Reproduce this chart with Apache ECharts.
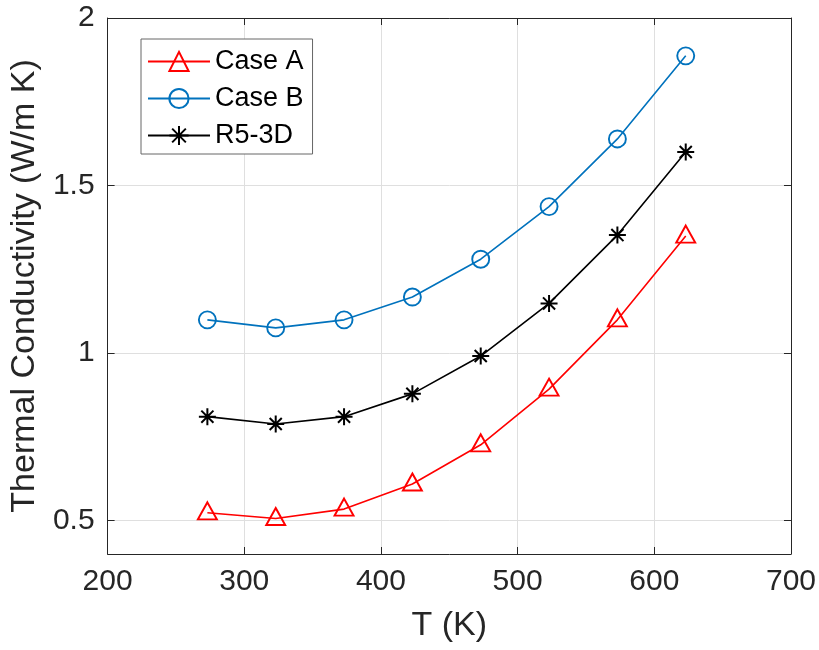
<!DOCTYPE html>
<html>
<head>
<meta charset="utf-8">
<script src="https://cdn.jsdelivr.net/npm/echarts@6/dist/echarts.min.js"></script>
<style>html,body{margin:0;padding:0;background:#fff;}#c{width:819px;height:650px;}</style>
</head>
<body>
<div id="c"></div>
<script>
var temps = [273, 323, 373, 423, 473, 523, 573, 623];
var caseA = [0.523, 0.506, 0.534, 0.609, 0.726, 0.892, 1.099, 1.349];
var caseB = [1.099, 1.075, 1.099, 1.167, 1.280, 1.437, 1.639, 1.887];
var r53d  = [0.810, 0.788, 0.810, 0.878, 0.991, 1.148, 1.352, 1.600];
var yTicks = [0.5, 1, 1.5, 2];
var seriesNames = ['Case A', 'Case B', 'R5-3D'];

function pairs(ys) { return temps.map(function (t, i) { return [t, ys[i]]; }); }

var axisColor = '#262626';
var font = '"Liberation Sans", Arial, sans-serif';
var asterisk = 'path://M0 -8 L0 8 M-8 0 L8 0 M-5.7 -5.7 L5.7 5.7 M-5.7 5.7 L5.7 -5.7';

var chart = echarts.init(document.getElementById('c'), null, {renderer: 'canvas'});
chart.setOption({
  backgroundColor: '#fff',
  animation: false,
  textStyle: {fontFamily: font},
  grid: {left: 107, right: 24, top: 18, bottom: 96, containLabel: false},
  legend: {
    left: 141, top: 39, orient: 'vertical',
    backgroundColor: '#fff', borderColor: '#666', borderWidth: 1, borderRadius: 0,
    padding: [9, 9, 5, 6], itemGap: 10, itemWidth: 62, itemHeight: 24,
    textStyle: {fontSize: 27, lineHeight: 24, color: '#000', fontFamily: font},
    data: seriesNames
  },
  xAxis: [{
    type: 'value', min: 200, max: 700, interval: 100, position: 'bottom',
    name: 'T (K)', nameLocation: 'middle', nameGap: 55,
    nameTextStyle: {fontSize: 34, color: axisColor, fontFamily: font},
    axisLine: {show: true, lineStyle: {color: axisColor, width: 1}},
    axisTick: {show: true, inside: true, length: 7, lineStyle: {color: axisColor}},
    axisLabel: {fontSize: 30, color: axisColor, margin: 13, fontFamily: font},
    splitLine: {show: true, lineStyle: {color: '#dfdfdf', width: 1}}
  }, {
    type: 'value', min: 200, max: 700, interval: 100, position: 'top',
    axisLine: {show: true, onZero: false, lineStyle: {color: axisColor, width: 1}},
    axisTick: {show: true, inside: true, length: 7, lineStyle: {color: axisColor}},
    axisLabel: {show: false}, splitLine: {show: false}
  }],
  yAxis: [{
    type: 'value', min: 0.4, max: 2, position: 'left',
    name: 'Thermal Conductivity (W/m K)', nameLocation: 'middle', nameGap: 61,
    nameTextStyle: {fontSize: 34, color: axisColor, fontFamily: font},
    axisLine: {show: true, lineStyle: {color: axisColor, width: 1}},
    axisTick: {show: true, inside: true, length: 7, customValues: yTicks, lineStyle: {color: axisColor}},
    axisLabel: {fontSize: 30, color: axisColor, margin: 13, customValues: yTicks, fontFamily: font},
    splitLine: {show: true, lineStyle: {color: '#dfdfdf', width: 1}}
  }, {
    type: 'value', min: 0.4, max: 2, position: 'right',
    axisLine: {show: true, onZero: false, lineStyle: {color: axisColor, width: 1}},
    axisTick: {show: true, inside: true, length: 7, customValues: yTicks, lineStyle: {color: axisColor}},
    axisLabel: {show: false}, splitLine: {show: false}
  }],
  series: [{
    name: seriesNames[0], type: 'line', data: pairs(caseA),
    symbol: 'triangle', symbolSize: [19, 17], symbolOffset: [0, -2],
    lineStyle: {color: '#ff0000', width: 1.6},
    itemStyle: {color: 'rgba(255,255,255,0)', borderColor: '#ff0000', borderWidth: 1.9}
  }, {
    name: seriesNames[1], type: 'line', data: pairs(caseB),
    symbol: 'circle', symbolSize: 17,
    lineStyle: {color: '#0072BD', width: 1.6},
    itemStyle: {color: 'rgba(255,255,255,0)', borderColor: '#0072BD', borderWidth: 1.9}
  }, {
    name: seriesNames[2], type: 'line', data: pairs(r53d),
    symbol: asterisk, symbolSize: 17,
    lineStyle: {color: '#000000', width: 1.6},
    itemStyle: {color: '#000000', borderColor: '#000000', borderWidth: 2}
  }]
});
</script>
</body>
</html>
